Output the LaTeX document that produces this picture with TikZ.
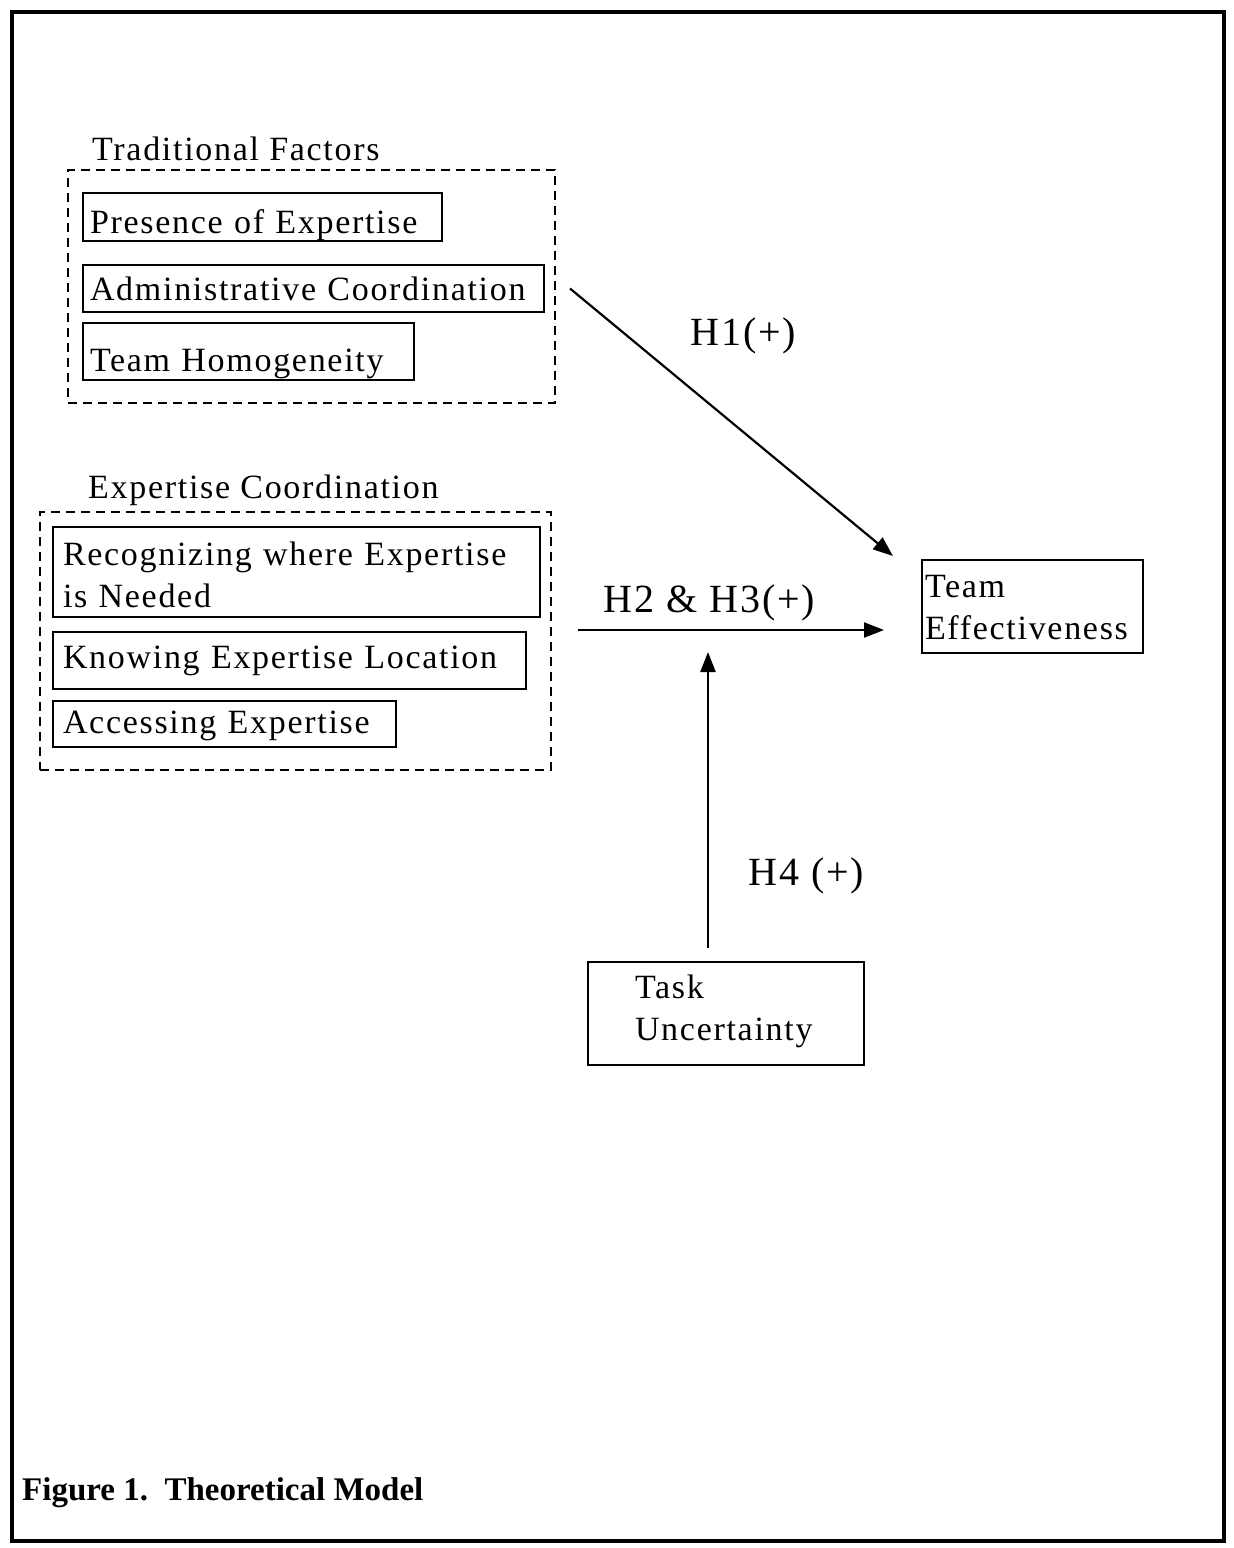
\documentclass[tikz,border=0pt]{standalone}
\usepackage{fontspec}
\newfontfamily\diagfont{Liberation Serif}[LetterSpace=5]
\newfontfamily\capfont{Liberation Serif}
\usetikzlibrary{arrows.meta}

\begin{document}
\begin{tikzpicture}
  [x=1pt,y=-1pt,
   font=\diagfont\fontsize{34}{42}\selectfont,
   factor/.style={draw,line width=2pt,anchor=north west,align=left,inner ysep=0pt,outer sep=0pt},
   group/.style={draw,line width=2.5pt,dash pattern=on 9pt off 6pt,anchor=north west,inner sep=0pt,outer sep=0pt},
   grouptitle/.style={anchor=base west,inner sep=0pt},
   hyp/.style={anchor=base west,inner sep=0pt,font=\diagfont\fontsize{40}{48}\selectfont},
   link/.style={line width=2.2pt,-{Triangle[length=20pt,width=15pt]}},]

  \useasboundingbox (0,0) rectangle (1234,1548);
  \draw[line width=3.5pt] (12,12) rectangle (1224,1541);

  % traditional factors
  \node[group,minimum width=487pt,minimum height=233pt] (trad) at (68,170) {};
  \node[grouptitle] (tradtitle) at (92,160) {Traditional Factors};
  \node[factor,inner xsep=7pt,text width=345pt,text height=40pt,text depth=8pt] (presence) at (83,193) {Presence of Expertise};
  \node[factor,inner xsep=7pt,text width=447pt,text height=35pt,text depth=12pt] (admin) at (83,265) {Administrative Coordination};
  \node[factor,inner xsep=7pt,text width=317pt,text height=48pt,text depth=9pt] (homog) at (83,323) {Team Homogeneity};

  % expertise coordination
  \node[group,minimum width=511pt,minimum height=258pt] (expco) at (40,512) {};
  \node[grouptitle] (expcotitle) at (88,498) {Expertise Coordination};
  \node[factor,inner xsep=10pt,text width=467pt,text height=38pt,text depth=52pt] (recog) at (53,527) {Recognizing where Expertise\\is Needed};
  \node[factor,inner xsep=10pt,text width=453pt,text height=36pt,text depth=21pt] (knowing) at (53,632) {Knowing Expertise Location};
  \node[factor,inner xsep=10pt,text width=323pt,text height=32pt,text depth=14pt] (access) at (53,701) {Accessing Expertise};

  % outcome and moderator
  \node[factor,inner xsep=3pt,text width=215pt,text height=37pt,text depth=56pt] (team) at (922,560) {Team\\Effectiveness};
  \node[factor,inner xsep=47pt,text width=182pt,text height=36pt,text depth=67pt] (task) at (588,962) {Task\\Uncertainty};

  \coordinate (h2s) at ([xshift=27pt,yshift=11pt]expco.east);
  \coordinate (h2e) at (h2s -| team.west);
  \coordinate (h4e) at (task.north |- h2s);

  \draw[link] ([xshift=26pt]admin.east) -- ([xshift=-29pt,yshift=4pt]team.north west);
  \draw[link] (h2s) -- ([xshift=-38pt]h2e);
  \draw[link] ([xshift=-18pt,yshift=14pt]task.north) -- ([xshift=-18pt,yshift=-22pt]h4e);

  \node[hyp] (h1) at (690,345) {H1(+)};
  \node[hyp] (h23) at (603,612) {H2 \& H3(+)};
  \node[hyp] (h4) at (748,885) {H4 (+)};

  \node[grouptitle,font=\capfont\bfseries\fontsize{33}{40}\selectfont] (caption) at (22,1500) {Figure 1.\ \ Theoretical Model};
\end{tikzpicture}
\end{document}
